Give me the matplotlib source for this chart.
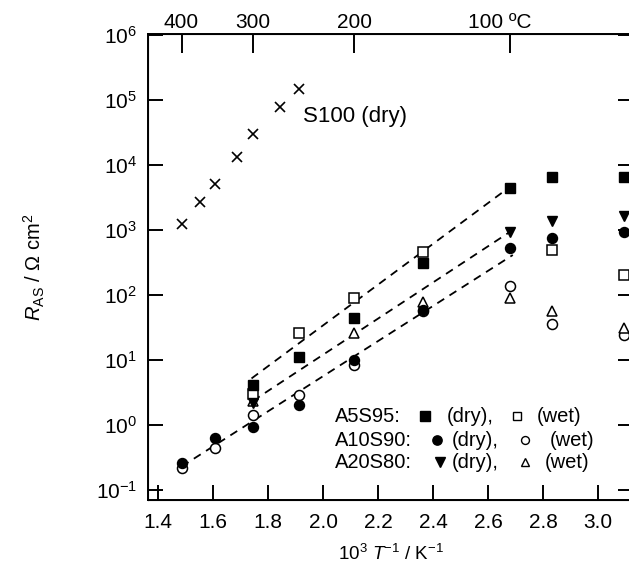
import numpy as np
import matplotlib
matplotlib.use('Agg')
import matplotlib.pyplot as plt
import matplotlib.transforms as mtransforms
from matplotlib.ticker import FixedLocator, NullLocator

plt.rcParams['font.family'] = ['Liberation Sans', 'DejaVu Sans']
plt.rcParams['mathtext.fontset'] = 'custom'
plt.rcParams['mathtext.rm'] = 'Liberation Sans'
plt.rcParams['mathtext.it'] = 'Liberation Sans:italic'
plt.rcParams['mathtext.default'] = 'regular'
plt.rcParams['font.size'] = 12

# x = 10^3 / T (K^-1), R_AS in Ohm cm^2
X_S100 = [1.486, 1.553, 1.607, 1.686, 1.747, 1.844, 1.913]
R_S100 = [1230, 2680, 5100, 13400, 30000, 77000, 148000]

X_A5_DRY = [1.745, 1.913, 2.113, 2.362, 2.680, 2.832, 3.094]
R_A5_DRY = [4.1, 11, 44, 315, 4400, 6600, 6600]
X_A5_WET = [1.745, 1.913, 2.113, 2.362, 2.832, 3.094]
R_A5_WET = [3.0, 26, 91, 460, 490, 203]

X_A10_DRY = [1.486, 1.607, 1.745, 1.913, 2.113, 2.362, 2.680, 2.832, 3.094]
R_A10_DRY = [0.26, 0.62, 0.92, 2.0, 10, 59, 520, 740, 920]
X_A10_WET = [1.486, 1.607, 1.745, 1.913, 2.113, 2.362, 2.680, 2.832, 3.094]
R_A10_WET = [0.22, 0.44, 1.4, 2.9, 8.4, 57, 138, 36, 24]

X_A20_DRY = [1.745, 2.680, 2.832, 3.094]
R_A20_DRY = [2.2, 920, 1380, 1620]
X_A20_WET = [1.745, 2.113, 2.362, 2.680, 2.832, 3.094]
R_A20_WET = [2.3, 26, 79, 89, 57, 31]

# Arrhenius fit lines (end points)
FIT_X = [[1.740, 2.685], [1.745, 2.690], [1.486, 2.690]]
FIT_R = [[5.2, 4800], [2.35, 1000], [0.23, 412]]

TOP_TEMPS = [400, 300, 200, 100]
TOP_LABELS = ['400', '300', '200', '100 \u00baC']
X_TICKS = [1.4, 1.6, 1.8, 2.0, 2.2, 2.4, 2.6, 2.8, 3.0]

fig = plt.figure(figsize=(6.29, 5.70), dpi=100)
ax = fig.add_axes([148 / 629, 70 / 570, 485 / 629, 466 / 570])

for fx, fr in zip(FIT_X, FIT_R):
    ax.plot(fx, fr, color='k', lw=1.3, dashes=(4.5, 3.5), zorder=2)

ms = 7.2
ax.plot(X_S100, R_S100, ls='none', marker='x', ms=7, mew=1.2, color='k', zorder=3)
ax.plot(X_A10_WET, R_A10_WET, ls='none', marker='o', ms=ms, mfc='white', mec='k', mew=1.1, zorder=3)
ax.plot(X_A20_WET, R_A20_WET, ls='none', marker='^', ms=ms, mfc='white', mec='k', mew=1.1, zorder=3)
ax.plot(X_A5_WET, R_A5_WET, ls='none', marker='s', ms=ms - 0.5, mfc='white', mec='k', mew=1.1, zorder=3)
ax.plot(X_A10_DRY, R_A10_DRY, ls='none', marker='o', ms=ms, color='k', zorder=4)
ax.plot(X_A20_DRY, R_A20_DRY, ls='none', marker='v', ms=ms, color='k', zorder=4)
ax.plot(X_A5_DRY, R_A5_DRY, ls='none', marker='s', ms=ms - 0.5, color='k', zorder=4)

ax.set_yscale('log')
ax.set_xlim(1.3636, 3.127)
ax.set_ylim(10 ** -1.154, 10 ** 6.015)
ax.yaxis.set_major_locator(FixedLocator(10.0 ** np.arange(-1, 7)))
ax.yaxis.set_minor_locator(NullLocator())
ax.set_xticks(X_TICKS)
ax.set_xticklabels(['%.1f' % v for v in X_TICKS])
ax.tick_params(axis='both', which='major', direction='in', length=10.5, width=1.4,
               top=False, right=True, labelsize=15)
ax.tick_params(axis='x', pad=9)
ax.tick_params(axis='y', pad=8)
for s in ax.spines.values():
    s.set_linewidth(1.4)

ax.set_xlabel('10$^{3}$ $\\it{T}$$^{-1}$ / K$^{-1}$', fontsize=13.5, labelpad=9)
ax.set_ylabel('$\\it{R}$$_{\\rm AS}$ / \u03a9 cm$^{2}$', fontsize=14.5, labelpad=35)

# top axis in Celsius
ax2 = ax.twiny()
ax2.set_xlim(ax.get_xlim())
ax2.set_xticks([1000 / (t + 273.15) for t in TOP_TEMPS])
ax2.set_xticklabels(TOP_LABELS)
ax2.tick_params(axis='x', direction='in', length=14, width=1.4, pad=1.5, labelsize=15)
lbl = ax2.get_xticklabels()[-1]
lbl.set_transform(lbl.get_transform() + mtransforms.ScaledTranslation(-10 / 100, 0, fig.dpi_scale_trans))

ax.text(1.927, 10 ** 4.74, 'S100 (dry)', fontsize=16, va='center', ha='left')

# key in lower right
def fx(px):
    return (px - 148) / 485

def fy(py):
    return (500 - py) / 466

rows = [
    ('A5S95:', 's', 416, 425, 447, 517, 537),
    ('A10S90:', 'o', 440, 437, 452, 525, 550),
    ('A20S80:', 'v', 462, 440, 452, 525, 545),
]
open_marker = {'s': 's', 'o': 'o', 'v': '^'}
for name, mk, py, mdry, tdry, mwet, twet in rows:
    y = fy(py)
    ax.text(fx(335), y, name, transform=ax.transAxes, va='center', ha='left', fontsize=14.5)
    ax.plot([fx(mdry)], [y], transform=ax.transAxes, marker=mk, ms=ms - 0.5, color='k', clip_on=False)
    ax.text(fx(tdry), y, '(dry),', transform=ax.transAxes, va='center', ha='left', fontsize=14.5)
    ax.plot([fx(mwet)], [y], transform=ax.transAxes, marker=open_marker[mk], ms=ms - 1.5,
            mfc='white', mec='k', mew=1.0, clip_on=False)
    ax.text(fx(twet), y, '(wet)', transform=ax.transAxes, va='center', ha='left', fontsize=14.5)

fig.savefig('out.png', dpi=100)
